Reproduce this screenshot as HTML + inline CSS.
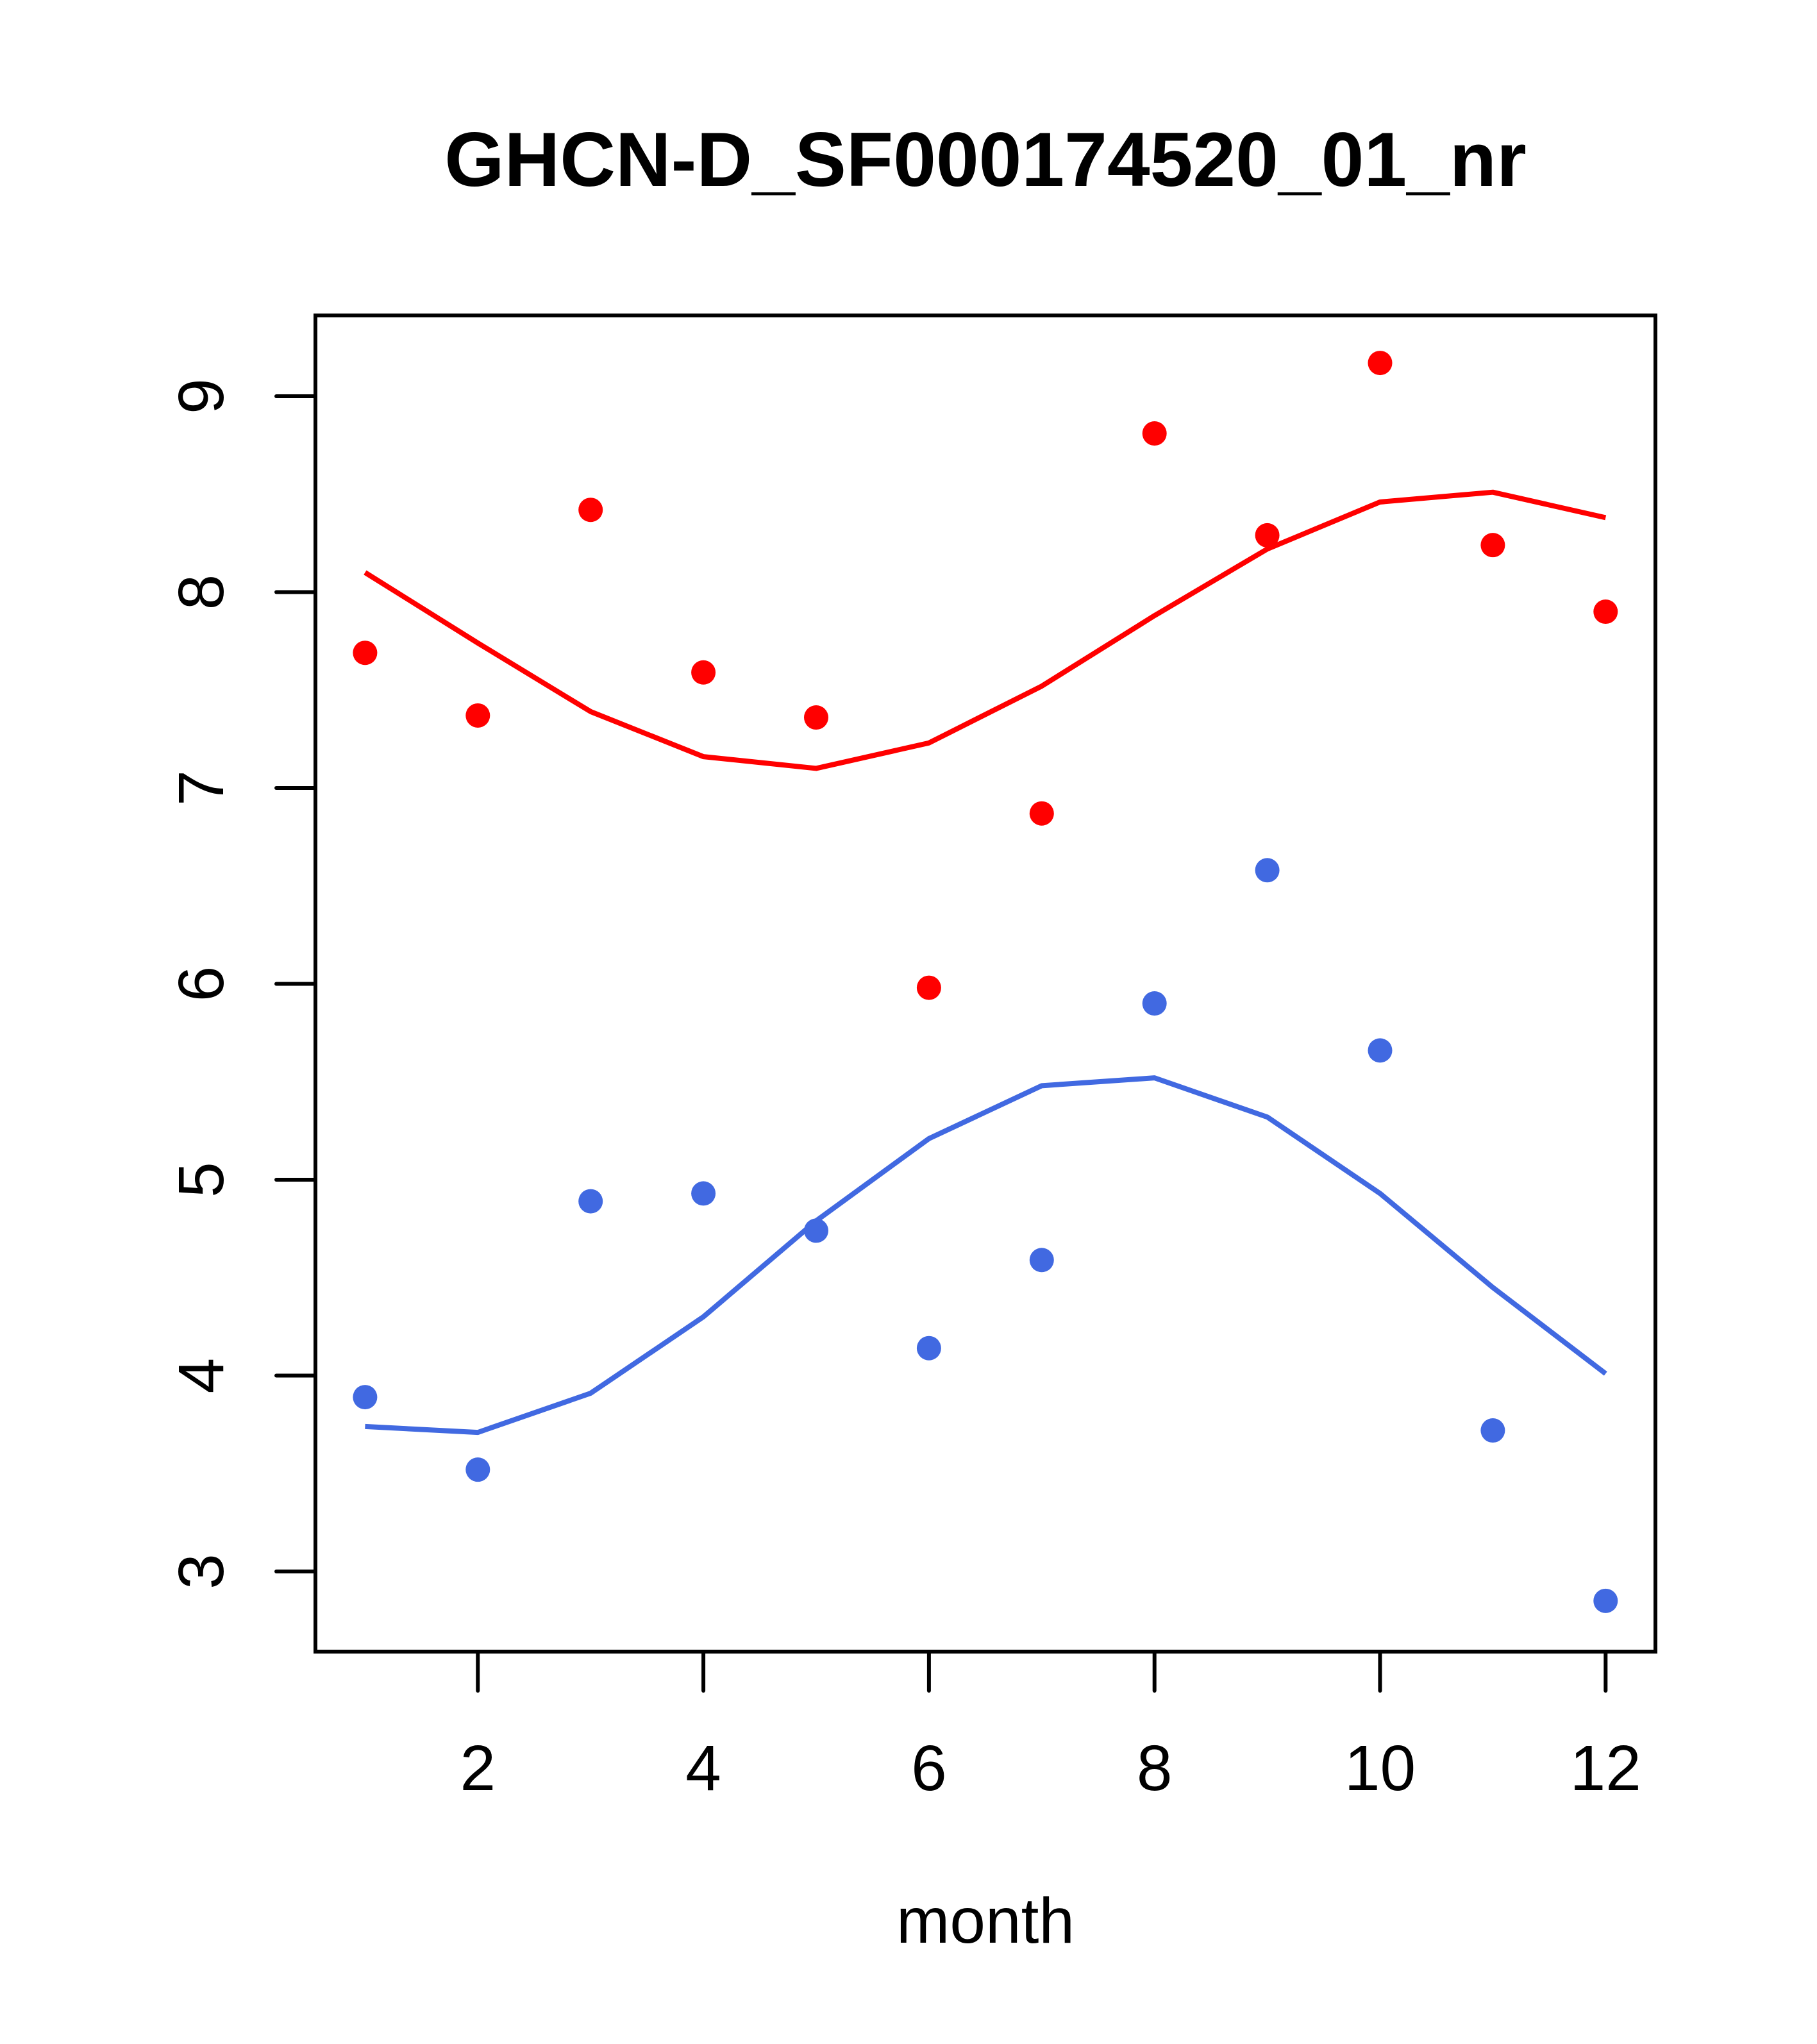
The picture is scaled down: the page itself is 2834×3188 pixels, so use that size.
<!DOCTYPE html>
<html><head><meta charset="utf-8"><style>html,body{margin:0;padding:0;background:#fff}svg{display:block}text{font-family:"Liberation Sans",sans-serif}</style></head>
<body>
<svg id="chart" width="2834" height="3188" viewBox="0 0 2834 3188" xmlns="http://www.w3.org/2000/svg">
<rect width="2834" height="3188" fill="#fff"/>
<text x="1537" y="290" font-size="120" font-weight="bold" text-anchor="middle">GHCN-D_SF000174520_01_nr</text>
<text x="1537" y="3030" font-size="100" text-anchor="middle">month</text>
<rect x="492" y="492" width="2090" height="2084" fill="none" stroke="#000" stroke-width="6"/>
<g id="axes"></g><g id="series"></g>
</svg>
<script>
const months=[1,2,3,4,5,6,7,8,9,10,11,12];
const redPoints=[7.69,7.37,8.42,7.59,7.36,5.98,6.87,8.81,8.29,9.17,8.24,7.90];
const redLine=[8.10,7.74,7.39,7.16,7.10,7.23,7.52,7.88,8.22,8.46,8.51,8.38];
const bluePoints=[3.89,3.52,4.89,4.93,4.74,4.14,4.59,5.90,6.58,5.66,3.72,2.85];
const blueLine=[3.74,3.71,3.91,4.30,4.79,5.21,5.48,5.52,5.32,4.93,4.45,4.01];
const xTicks=[2,4,6,8,10,12];
const yTicks=[3,4,5,6,7,8,9];
const NS="http://www.w3.org/2000/svg";
function X(m){return 492+(m-0.56)*175.9;}
function Y(v){return 618+(9-v)*305.5;}
function mk(t,a,p){const e=document.createElementNS(NS,t);for(const k in a)e.setAttribute(k,a[k]);p.appendChild(e);return e;}
const ax=document.getElementById('axes'),se=document.getElementById('series');
xTicks.forEach(t=>{
 const l=mk('line',{x1:X(t),x2:X(t),y1:2576,y2:2637,stroke:'#000','stroke-width':6,'stroke-linecap':'round'},ax);
 
 
 const tx=mk('text',{x:X(t),y:2792,'font-size':100,'text-anchor':'middle'},ax);tx.textContent=t;
 
 
});
yTicks.forEach(t=>{
 const l=mk('line',{x1:431,x2:492,y1:Y(t),y2:Y(t),stroke:'#000','stroke-width':6,'stroke-linecap':'round'},ax);
 
 
 const tx=mk('text',{x:0,y:0,'font-size':100,'text-anchor':'middle',transform:`translate(348,${Y(t)}) rotate(-90)`},ax);tx.textContent=t;
 
 
});
function series(vals,col,name){
 const p=mk('polyline',{points:vals.map((v,i)=>X(months[i])+','+Y(v)).join(' '),fill:'none',stroke:col,'stroke-width':8,'stroke-linejoin':'round'},se);
 
 
}
function pts(vals,col,name){
 vals.forEach((v,i)=>{
  const c=mk('circle',{cx:X(months[i]),cy:Y(v),r:19,fill:col},se);
  
  
 });
}
series(redLine,'#ff0000','red-trend-line');
series(blueLine,'#4169e1','blue-trend-line');
pts(redPoints,'#ff0000','red-point');
pts(bluePoints,'#4169e1','blue-point');
</script>
</body></html>
